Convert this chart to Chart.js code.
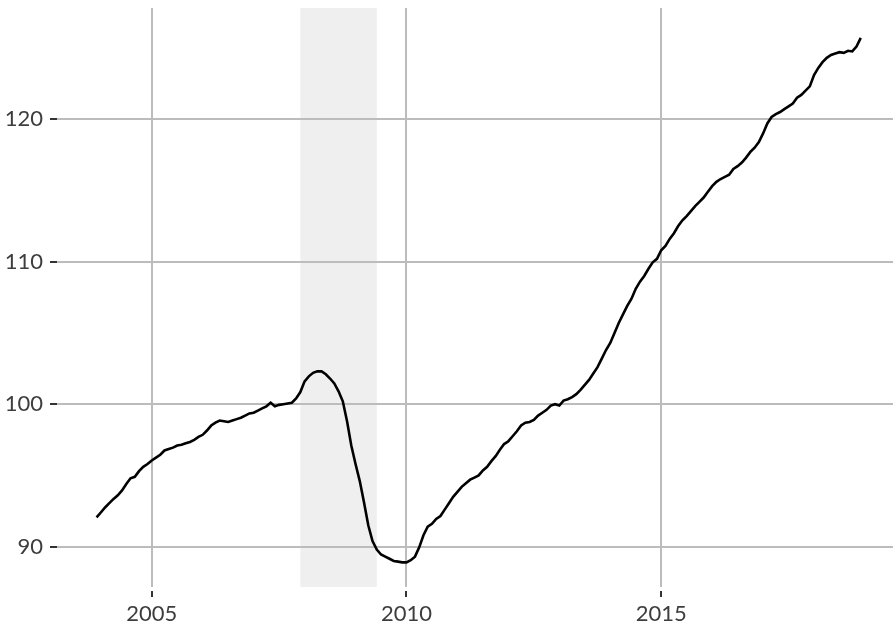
<!DOCTYPE html>
<html>
<head>
<meta charset="utf-8">
<script src="https://cdn.jsdelivr.net/npm/chart.js@4.4.1/dist/chart.umd.min.js"></script>
<style>
  html, body { margin: 0; padding: 0; background: #fff; }
  #wrap { width: 893px; height: 626px; }
</style>
</head>
<body>
<div id="wrap"><canvas id="index-graph"></canvas></div>
<script>
// monthly series, first point is Dec 2003
const startYear = 2003
const startMonth = 12
const values = [
  92.05,
  92.4, 92.75, 93.05, 93.35, 93.6, 93.95, 94.4, 94.8, 94.9, 95.3, 95.6, 95.8,
  96.05, 96.25, 96.45, 96.75, 96.85, 96.95, 97.1, 97.15, 97.25, 97.35, 97.5, 97.7,
  97.85, 98.15, 98.5, 98.7, 98.85, 98.8, 98.75, 98.85, 98.95, 99.05, 99.2, 99.35,
  99.4, 99.55, 99.7, 99.85, 100.1, 99.85, 99.95, 100.0, 100.05, 100.1, 100.4, 100.85,
  101.6, 101.95, 102.2, 102.3, 102.3, 102.1, 101.8, 101.45, 100.9, 100.2, 98.8, 97.1,
  95.8, 94.6, 93.1, 91.5, 90.4, 89.8, 89.45, 89.3, 89.15, 89.0, 88.95, 88.9,
  88.9, 89.05, 89.3, 89.95, 90.8, 91.4, 91.6, 91.95, 92.15, 92.6, 93.05, 93.5,
  93.85, 94.2, 94.45, 94.7, 94.85, 95.0, 95.35, 95.6, 96.0, 96.35, 96.8, 97.2,
  97.4, 97.75, 98.1, 98.5, 98.7, 98.75, 98.9, 99.2, 99.4, 99.6, 99.9, 100.0,
  99.9, 100.25, 100.35, 100.5, 100.7, 101.0, 101.35, 101.7, 102.15, 102.6, 103.2, 103.8,
  104.3, 105.0, 105.7, 106.3, 106.9, 107.4, 108.1, 108.6, 109.0, 109.5, 109.95, 110.2,
  110.8, 111.1, 111.6, 112.0, 112.5, 112.9, 113.2, 113.55, 113.9, 114.2, 114.5, 114.9,
  115.3, 115.6, 115.8, 115.95, 116.1, 116.5, 116.7, 116.95, 117.3, 117.7, 118.0, 118.4,
  119.0, 119.7, 120.15, 120.35, 120.5, 120.7, 120.9, 121.1, 121.5, 121.7, 122.0, 122.3,
  123.1, 123.6, 124.0, 124.3, 124.5, 124.6, 124.7, 124.65, 124.8, 124.75, 125.1, 125.7
]
const xTicks = [2005, 2010, 2015]
const yTicks = [90, 100, 110, 120]
const recessionStart = 2007 + 11 / 12
const recessionEnd = 2009 + 5 / 12

const points = values.map((v, i) => ({
  x: startYear + (startMonth - 1 + i) / 12,
  y: v
}))

const recessionPlugin = {
  id: 'recessionPlugin',
  beforeDraw(chart) {
    const { ctx, chartArea, scales: { x } } = chart
    const x0 = x.getPixelForValue(recessionStart)
    const x1 = x.getPixelForValue(recessionEnd)
    ctx.save()
    ctx.fillStyle = '#efefef'
    ctx.fillRect(x0, chartArea.top, x1 - x0, chartArea.bottom - chartArea.top)
    ctx.restore()
  }
}

// short dark tick marks, the x ones sit a little below the panel
const tickMarksPlugin = {
  id: 'tickMarksPlugin',
  afterDraw(chart) {
    const { ctx, chartArea, scales: { x, y } } = chart
    ctx.save()
    ctx.strokeStyle = '#333'
    ctx.lineWidth = 2
    ctx.beginPath()
    xTicks.forEach(t => {
      const px = Math.round(x.getPixelForValue(t))
      ctx.moveTo(px, chartArea.bottom + 4)
      ctx.lineTo(px, chartArea.bottom + 10)
    })
    yTicks.forEach(t => {
      const py = Math.round(y.getPixelForValue(t))
      ctx.moveTo(chartArea.left - 7, py)
      ctx.lineTo(chartArea.left, py)
    })
    ctx.stroke()
    ctx.restore()
  }
}

const tickFont = { family: 'Lato', size: 22 }

new Chart(document.getElementById('index-graph').getContext('2d'), {
  type: 'line',
  data: {
    datasets: [
      {
        data: points,
        borderColor: '#000',
        borderWidth: 2.6,
        pointRadius: 0,
        tension: 0,
        fill: false
      }
    ]
  },
  options: {
    responsive: true,
    maintainAspectRatio: false,
    animation: false,
    layout: { padding: { top: 8, right: 0, left: 0, bottom: 0 } },
    plugins: {
      legend: { display: false },
      tooltip: { enabled: false }
    },
    scales: {
      x: {
        type: 'linear',
        min: 2003.14,
        max: 2019.55,
        afterBuildTicks: scale => { scale.ticks = xTicks.map(v => ({ value: v })) },
        afterFit: scale => {
          scale.height = 39
          scale.paddingLeft = 0
          scale.paddingRight = 0
        },
        grid: { color: '#bcbcbc', lineWidth: 2, drawTicks: false },
        border: { display: false },
        ticks: {
          font: tickFont,
          color: '#3d3d3d',
          padding: 14,
          maxRotation: 0,
          callback: v => String(v)
        }
      },
      y: {
        min: 87.17,
        max: 127.8,
        afterBuildTicks: scale => { scale.ticks = yTicks.map(v => ({ value: v })) },
        afterFit: scale => {
          scale.width = 57
          scale.paddingTop = 0
          scale.paddingBottom = 0
        },
        grid: { color: '#bcbcbc', lineWidth: 2, drawTicks: false },
        border: { display: false },
        ticks: {
          font: tickFont,
          color: '#3d3d3d',
          padding: 14,
          callback: v => String(v)
        }
      }
    }
  },
  plugins: [recessionPlugin, tickMarksPlugin]
})
</script>
</body>
</html>
